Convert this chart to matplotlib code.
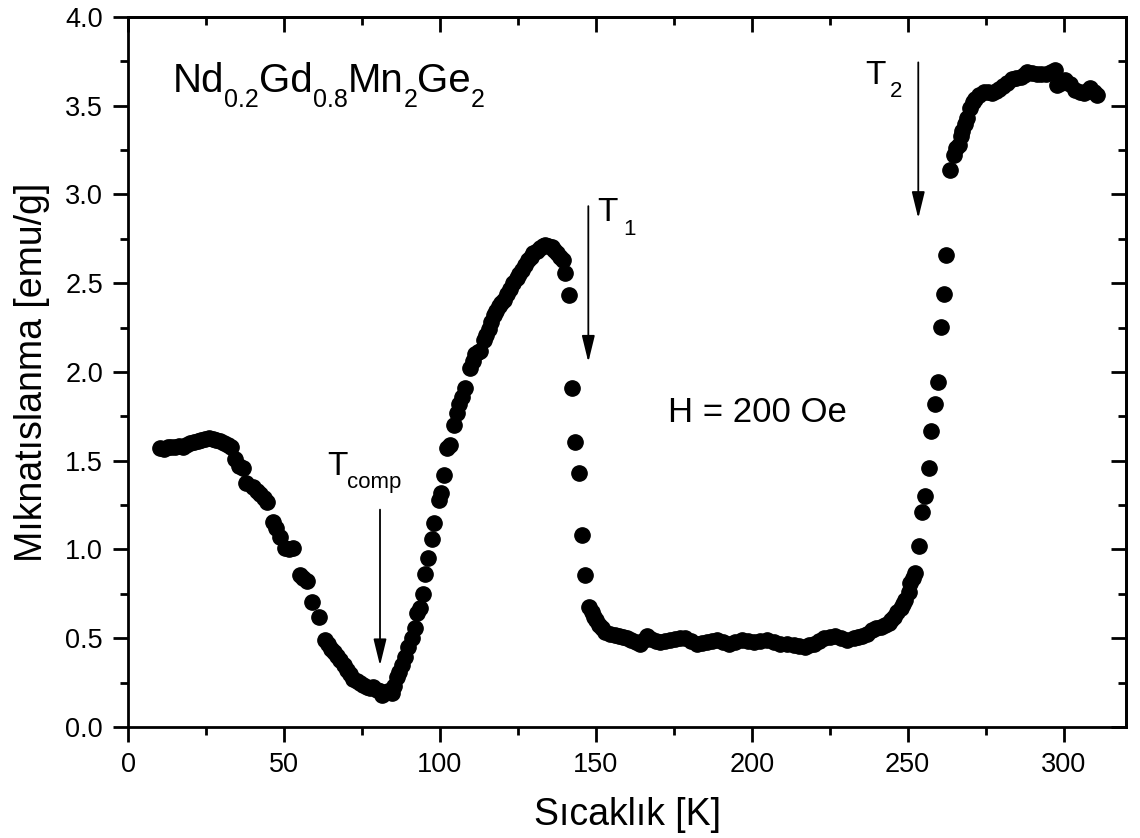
import matplotlib
matplotlib.use('Agg')
import matplotlib.pyplot as plt
from matplotlib.ticker import MultipleLocator, FormatStrFormatter

plt.rcParams['font.family'] = ['Liberation Sans', 'DejaVu Sans']

# temperature [K] and magnetization [emu/g]
T_low = [10.3, 11.5, 12.7, 13.9, 15.1, 16.3, 17.5, 18.7, 19.9, 21.1, 22.3, 23.5,
         24.7, 25.9, 27.1, 28.3, 29.5, 30.7, 31.9, 33.0]
M_low = [1.57, 1.565, 1.575, 1.58, 1.575, 1.585, 1.58, 1.59, 1.60, 1.605, 1.61, 1.615,
         1.62, 1.63, 1.62, 1.615, 1.61, 1.60, 1.59, 1.575]

T_fall = [34.3, 35.5, 37.0, 37.9, 40.2, 41.3, 42.3, 43.5, 44.5, 46.6, 47.6, 48.8,
          50.4, 51.5, 53.0, 55.2, 56.2, 57.3, 58.9, 61.1, 63.2]
M_fall = [1.51, 1.47, 1.457, 1.376, 1.354, 1.33, 1.315, 1.29, 1.27, 1.157, 1.12, 1.072,
          1.006, 1.00, 1.006, 0.856, 0.84, 0.82, 0.705, 0.62, 0.49]

T_min = [64.0, 65.0, 65.9, 67.0, 68.0, 69.1, 70.2, 71.2, 72.3, 73.4, 74.5, 75.5, 76.6,
         77.6, 78.7, 79.7, 80.8, 81.4, 82.4, 83.5, 84.6, 85.4, 86.2, 87.0, 87.8, 88.9,
         89.9, 91.0, 92.1]
M_min = [0.47, 0.44, 0.425, 0.40, 0.377, 0.35, 0.32, 0.30, 0.273, 0.26, 0.245, 0.237,
         0.225, 0.22, 0.227, 0.21, 0.20, 0.18, 0.19, 0.205, 0.19, 0.23, 0.283, 0.31,
         0.35, 0.396, 0.45, 0.50, 0.56]

T_rise = [92.6, 93.7, 94.5, 95.3, 96.3, 97.4, 98.2, 99.6, 100.3, 101.2, 102.2, 103.3,
          104.4, 105.4, 106.0, 107.0, 108.1]
M_rise = [0.64, 0.67, 0.75, 0.86, 0.95, 1.06, 1.15, 1.28, 1.32, 1.42, 1.57, 1.59,
          1.70, 1.77, 1.82, 1.86, 1.91]

T_peak = [109.7, 110.5, 111.3, 112.1, 112.9, 114.0, 114.8, 115.6, 116.4, 117.2, 118.0,
          118.8, 119.6, 120.4, 121.5, 122.6, 123.6, 124.7, 125.5, 126.3, 127.3, 128.4,
          129.2, 130.0, 131.1, 132.2, 133.0, 133.8, 134.8, 135.9, 136.7, 137.5, 138.5,
          139.6]
M_peak = [2.02, 2.06, 2.10, 2.11, 2.12, 2.18, 2.21, 2.245, 2.28, 2.32, 2.345, 2.37,
          2.39, 2.405, 2.44, 2.47, 2.50, 2.527, 2.55, 2.575, 2.60, 2.63, 2.65, 2.668,
          2.68, 2.696, 2.71, 2.715, 2.71, 2.705, 2.69, 2.668, 2.65, 2.63]

T_drop = [140.2, 141.3, 142.4, 143.4, 144.5, 145.5, 146.4, 147.7]
M_drop = [2.555, 2.434, 1.91, 1.607, 1.43, 1.08, 0.856, 0.678]

T_flat = [148.7, 149.3, 150.1, 150.9, 152.0, 153.0, 154.4, 156.2, 157.5, 158.8, 160.0,
          161.4, 162.8, 164.3, 165.4, 166.4, 167.8, 169.2, 170.7, 172.3, 173.9, 175.5,
          177.1, 178.7, 180.5, 182.4, 184.0, 185.6, 187.2, 188.8, 190.7, 192.6, 194.7,
          196.9, 198.7, 200.6, 202.7, 204.9, 207.0, 209.2, 211.3, 213.4, 215.3, 217.2,
          218.5, 219.9, 221.5, 223.1, 225.0, 226.8, 228.7, 230.6, 232.7, 234.0, 235.4,
          237.0, 238.6, 240.0, 241.3, 242.6, 243.9, 244.7, 245.5, 246.6, 247.7, 248.5,
          249.3, 250.3, 250.9, 251.7, 252.5]
M_flat = [0.65, 0.62, 0.60, 0.575, 0.555, 0.537, 0.525, 0.518, 0.51, 0.505, 0.50,
          0.49, 0.48, 0.47, 0.49, 0.51, 0.495, 0.485, 0.48, 0.485, 0.49, 0.495,
          0.50, 0.50, 0.485, 0.47, 0.475, 0.48, 0.485, 0.49, 0.48, 0.47, 0.48,
          0.49, 0.485, 0.48, 0.485, 0.49, 0.48, 0.47, 0.465, 0.46, 0.455, 0.45,
          0.46, 0.47, 0.485, 0.50, 0.505, 0.51, 0.50, 0.49, 0.50, 0.505, 0.51,
          0.525, 0.546, 0.555, 0.565, 0.575, 0.585, 0.60, 0.62, 0.645, 0.668, 0.69,
          0.715, 0.76, 0.81, 0.84, 0.866]

T_jump = [253.6, 254.6, 255.7, 256.8, 257.6, 258.9, 259.6, 260.7, 261.6, 262.4, 263.7]
M_jump = [1.02, 1.213, 1.30, 1.457, 1.67, 1.82, 1.945, 2.255, 2.44, 2.66, 3.138]

T_high = [264.8, 265.6, 266.4, 267.0, 267.5, 268.3, 269.1, 270.1, 271.0, 271.7, 273.0,
          274.4, 275.8, 277.1, 278.2, 279.2, 280.5, 281.9, 283.5, 284.8, 286.2, 287.3,
          288.3, 289.9, 291.5, 292.8, 294.2, 295.8, 297.4, 297.9, 299.2, 300.6, 302.2,
          303.8, 305.1, 306.5, 307.5, 308.6, 309.7, 310.8]
M_high = [3.22, 3.26, 3.28, 3.33, 3.36, 3.40, 3.43, 3.49, 3.52, 3.54, 3.56,
          3.58, 3.575, 3.57, 3.585, 3.597, 3.61, 3.626, 3.65, 3.655, 3.66, 3.675,
          3.69, 3.685, 3.68, 3.68, 3.68, 3.69, 3.70, 3.617, 3.63, 3.645, 3.62,
          3.59, 3.58, 3.57, 3.585, 3.60, 3.58, 3.56]

T = T_low + T_fall + T_min + T_rise + T_peak + T_drop + T_flat + T_jump + T_high
M = M_low + M_fall + M_min + M_rise + M_peak + M_drop + M_flat + M_jump + M_high

# arrows: (x, y_tail, y_tip)
arrows = [(80.8, 1.24, 0.33), (147.6, 2.95, 2.04), (253.4, 3.76, 2.85)]


def sub_text(ax, x, y, parts, size, sub_size, drop, gap=0):
    """Write text with subscripts piece by piece, drop = subscript shift in points."""
    first = ax.text(x, y, parts[0], fontsize=size, ha='left', va='baseline')
    base = first
    prev = first
    desc = 0.212 * (size - sub_size)
    for i, p in enumerate(parts[1:]):
        if i % 2 == 0:
            prev = ax.annotate(p, xy=(1, 0), xycoords=(prev, base),
                               xytext=(gap, -(drop - desc)), textcoords='offset points',
                               fontsize=sub_size, ha='left', va='bottom')
        else:
            prev = ax.annotate(p, xy=(1, 0), xycoords=(prev, base),
                               xytext=(0, 0), textcoords='offset points',
                               fontsize=size, ha='left', va='bottom')
            base = prev


fig = plt.figure(figsize=(11.4, 8.38), dpi=100)
ax = fig.add_axes([0.1123, 0.1325, 0.8754, 0.8472])

ax.plot(T, M, 'o', color='black', ms=11, mec='black')

ax.set_xlim(0, 320)
ax.set_ylim(0, 4.0)
ax.xaxis.set_major_locator(MultipleLocator(50))
ax.xaxis.set_minor_locator(MultipleLocator(25))
ax.yaxis.set_major_locator(MultipleLocator(0.5))
ax.yaxis.set_minor_locator(MultipleLocator(0.25))
ax.yaxis.set_major_formatter(FormatStrFormatter('%.1f'))

for s in ax.spines.values():
    s.set_linewidth(2.0)
ax.tick_params(which='major', direction='out', length=11, width=2.0, labelsize=19.5, pad=7)
ax.tick_params(which='minor', direction='out', length=5.5, width=2.0)

# top and right: ticks pointing inward, no labels
top = ax.secondary_xaxis('top')
top.xaxis.set_major_locator(MultipleLocator(50))
top.xaxis.set_minor_locator(MultipleLocator(25))
top.tick_params(which='major', direction='in', length=11, width=2.0, labeltop=False)
top.tick_params(which='minor', direction='in', length=5.5, width=2.0)
top.spines['top'].set_linewidth(2.0)
right = ax.secondary_yaxis('right')
right.yaxis.set_major_locator(MultipleLocator(0.5))
right.yaxis.set_minor_locator(MultipleLocator(0.25))
right.tick_params(which='major', direction='in', length=11, width=2.0, labelright=False)
right.tick_params(which='minor', direction='in', length=5.5, width=2.0)
right.spines['right'].set_linewidth(2.0)

ax.set_xlabel('Sıcaklık [K]', fontsize=27, labelpad=14)
ax.set_ylabel('Mıknatıslanma [emu/g]', fontsize=27, labelpad=11)

for x, y0, y1 in arrows:
    ax.annotate('', xy=(x, y1), xytext=(x, y0),
                arrowprops=dict(arrowstyle='-|>,head_length=0.9,head_width=0.22',
                                color='black', lw=1.3, mutation_scale=18))

sub_text(ax, 14.4, 3.58, ['Nd', '0.2', 'Gd', '0.8', 'Mn', '2', 'Ge', '2'], 29, 18, 11.5)
sub_text(ax, 63.8, 1.42, ['T', 'comp'], 24, 16, 9.4)
sub_text(ax, 150.5, 2.85, ['T', '1'], 24, 16, 10.5, gap=4)
sub_text(ax, 236.4, 3.62, ['T', '2'], 24, 16, 9.4, gap=3)
ax.text(173.2, 1.72, 'H = 200 Oe', fontsize=25, ha='left', va='baseline')

fig.savefig('out.png', dpi=100)
